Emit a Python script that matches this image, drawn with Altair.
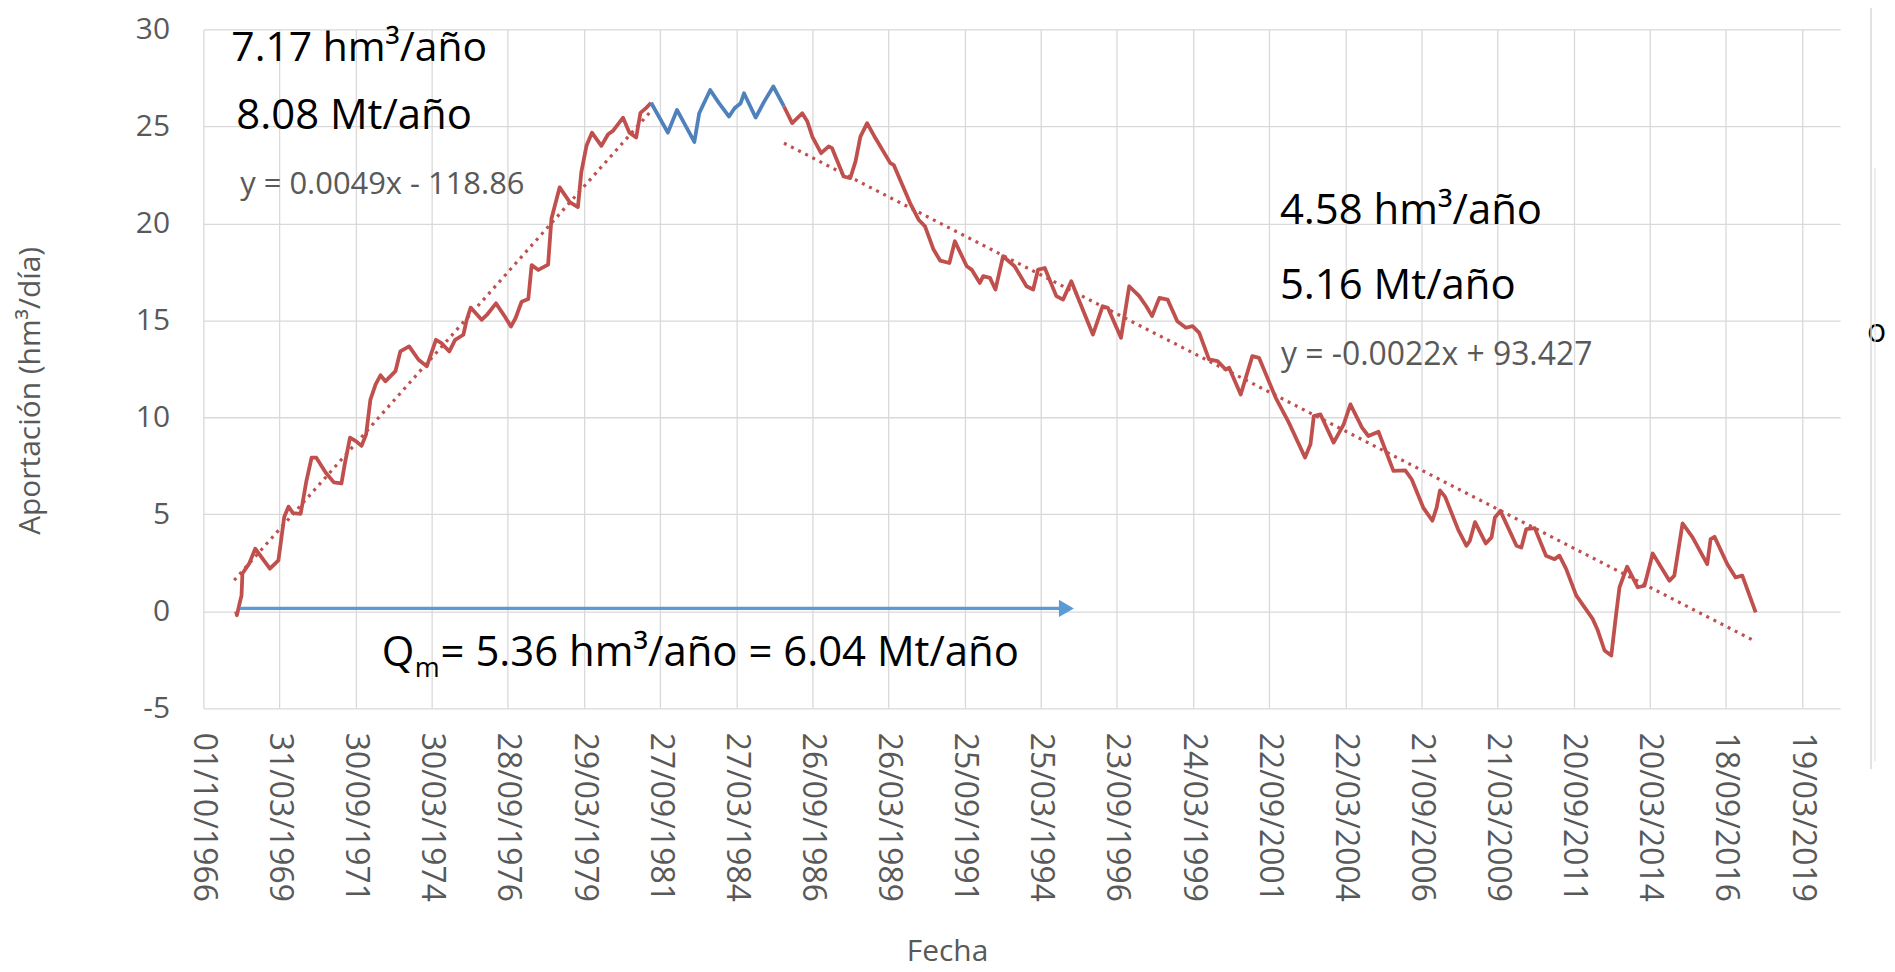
import altair as alt
import pandas as pd

# ---------------- datos ----------------
# Curva acumulada (tramo rojo 1)
anios_rojo1 = [1967.82, 1967.85, 1967.95, 1968.00, 1968.03, 1968.25, 1968.45, 1968.93, 1969.21, 1969.40,
               1969.54, 1969.69, 1969.94, 1970.13, 1970.30, 1970.45, 1970.76, 1971.03, 1971.28, 1971.39,
               1971.56, 1971.74, 1971.94, 1972.09, 1972.23, 1972.40, 1972.56, 1972.72, 1973.05, 1973.21,
               1973.50, 1973.81, 1974.08, 1974.25, 1974.38, 1974.56, 1974.82, 1975.01, 1975.28, 1975.39,
               1975.52, 1975.88, 1976.05, 1976.35, 1976.64, 1976.84, 1976.99, 1977.19, 1977.41, 1977.52,
               1977.74, 1978.06, 1978.17, 1978.44, 1978.77, 1979.04, 1979.15, 1979.32, 1979.50, 1979.81,
               1980.03, 1980.19, 1980.52, 1980.73, 1980.95, 1981.09, 1981.28, 1981.44]
valores_rojo1 = [0.0, -0.2, 0.5, 0.8, 1.95, 2.46, 3.23, 2.2, 2.63, 4.86,
                 5.4, 5.06, 5.03, 6.73, 7.93, 7.93, 7.16, 6.65, 6.6, 7.6,
                 8.96, 8.79, 8.53, 9.13, 10.92, 11.7, 12.17, 11.86, 12.38, 13.4,
                 13.66, 12.97, 12.63, 13.4, 14.0, 13.83, 13.4, 14.0, 14.26, 15.03,
                 15.66, 15.03, 15.28, 15.88, 15.2, 14.68, 15.11, 15.96, 16.1, 17.85,
                 17.6, 17.88, 20.24, 21.86, 21.1, 20.84, 22.63, 24.0, 24.68, 24.0,
                 24.6, 24.77, 25.45, 24.68, 24.43, 25.7, 25.96, 26.22]

# Tramo azul
anios_azul = [1981.44, 1981.99, 1982.29, 1982.86, 1983.02, 1983.38, 1983.67, 1984.00, 1984.18, 1984.38,
              1984.49, 1984.87, 1985.15, 1985.45, 1985.80]
valores_azul = [26.22, 24.68, 25.85, 24.2, 25.68, 26.88, 26.2, 25.51, 25.94, 26.2,
                26.71, 25.46, 26.28, 27.06, 26.03]

# Tramo rojo 2
anios_rojo2 = [1985.80, 1986.07, 1986.40, 1986.57, 1986.73, 1987.02, 1987.27, 1987.38, 1987.76, 1987.98,
               1988.15, 1988.31, 1988.53, 1988.80, 1989.29, 1989.40, 1989.94, 1990.22, 1990.43, 1990.71,
               1990.93, 1991.23, 1991.41, 1991.80, 1991.96, 1992.23, 1992.34, 1992.56, 1992.74, 1992.99,
               1993.37, 1993.76, 1993.98, 1994.14, 1994.36, 1994.74, 1994.96, 1995.23, 1995.94, 1996.26,
               1996.43, 1996.86, 1997.13, 1997.46, 1997.69, 1997.88, 1998.12, 1998.39, 1998.71, 1998.99,
               1999.21, 1999.43, 1999.75, 2000.03, 2000.30, 2000.41, 2000.79, 2001.17, 2001.39, 2001.94,
               2002.37, 2002.90, 2003.08, 2003.19, 2003.41, 2003.84, 2004.17, 2004.39, 2004.77, 2004.98,
               2005.31, 2005.80, 2006.19, 2006.40, 2006.78, 2007.08, 2007.22, 2007.33, 2007.50, 2007.93,
               2008.20, 2008.31, 2008.48, 2008.83, 2009.02, 2009.13, 2009.31, 2009.84, 2010.00, 2010.16,
               2010.44, 2010.81, 2011.09, 2011.25, 2011.47, 2011.80, 2012.07, 2012.34, 2012.51, 2012.73,
               2012.95, 2013.11, 2013.22, 2013.47, 2013.82, 2014.04, 2014.31, 2014.86, 2015.02, 2015.29,
               2015.62, 2016.10, 2016.21, 2016.34, 2016.76, 2017.03, 2017.25, 2017.69]
valores_rojo2 = [26.03, 25.17, 25.68, 25.25, 24.48, 23.62, 23.97, 23.88, 22.42, 22.34,
                 23.2, 24.48, 25.17, 24.4, 23.11, 23.02, 21.05, 20.19, 19.85, 18.65,
                 18.08, 17.96, 19.08, 17.79, 17.62, 16.93, 17.28, 17.19, 16.59, 18.31,
                 17.79, 16.76, 16.59, 17.62, 17.7, 16.25, 16.07, 17.02, 14.27, 15.73,
                 15.65, 14.1, 16.76, 16.25, 15.73, 15.22, 16.16, 16.07, 14.96, 14.62,
                 14.7, 14.36, 12.99, 12.9, 12.47, 12.56, 11.18, 13.16, 13.07, 11.01,
                 9.73, 7.93, 8.61, 10.07, 10.15, 8.7, 9.64, 10.67, 9.47, 9.04,
                 9.26, 7.24, 7.27, 6.81, 5.35, 4.67, 5.35, 6.24, 5.9, 4.2,
                 3.38, 3.64, 4.6, 3.5, 3.81, 4.84, 5.18, 3.38, 3.29, 4.24,
                 4.29, 2.87, 2.69, 2.87, 2.19, 0.82, 0.22, -0.39, -0.99, -2.02,
                 -2.28, -0.14, 1.24, 2.3, 1.24, 1.32, 2.98, 1.58, 1.84, 4.53,
                 3.81, 2.43, 3.72, 3.84, 2.43, 1.75, 1.84, -0.05]

# Líneas de tendencia (extremos leídos)
anios_tend1 = [1967.76, 1981.44]
valores_tend1 = [1.6, 25.8]
anios_tend2 = [1985.80, 2017.63]
valores_tend2 = [24.14, -1.51]

# Línea de caudal medio (flecha)
anios_media = [1967.95, 1994.84]
valores_media = [0.15, 0.15]
anio_punta = [1995.07]

# Ejes
etiquetas_x = ["01/10/1966", "31/03/1969", "30/09/1971", "30/03/1974", "28/09/1976", "29/03/1979",
               "27/09/1981", "27/03/1984", "26/09/1986", "26/03/1989", "25/09/1991", "25/03/1994",
               "23/09/1996", "24/03/1999", "22/09/2001", "22/03/2004", "21/09/2006", "21/03/2009",
               "20/09/2011", "20/03/2014", "18/09/2016", "19/03/2019"]
ticks_y = [-5, 0, 5, 10, 15, 20, 25, 30]
dominio_x = ["01/10/1966", "18/06/2020"]

textos = {
    "t1": "7.17 hm³/año",
    "t2": "8.08 Mt/año",
    "e1": "y = 0.0049x - 118.86",
    "t3": "4.58 hm³/año",
    "t4": "5.16 Mt/año",
    "e2": "y = -0.0022x + 93.427",
    "q": "Q",
    "m": "m",
    "qm": "= 5.36 hm³/año = 6.04 Mt/año",
}

# ---------------- construcción ----------------
def a_fecha(a):
    y = int(a)
    ini = pd.Timestamp(year=y, month=1, day=1)
    fin = pd.Timestamp(year=y + 1, month=1, day=1)
    return (ini + (fin - ini) * (a - y)).strftime("%Y-%m-%dT%H:%M:%S")


def a_dt(s):
    d, m, y = s.split("/")
    return alt.DateTime(year=int(y), month=int(m), date=int(d))


def tabla(anios, valores, seg):
    return pd.DataFrame({"fecha": [a_fecha(a) for a in anios], "valor": valores, "seg": seg})


df_rojo = pd.concat([tabla(anios_rojo1, valores_rojo1, "a"), tabla(anios_rojo2, valores_rojo2, "b")])
df_azul = tabla(anios_azul, valores_azul, "c")
df_tend = pd.concat([tabla(anios_tend1, valores_tend1, "t1"), tabla(anios_tend2, valores_tend2, "t2")])
df_media = tabla(anios_media, valores_media, "m")
df_punta = tabla(anio_punta, [valores_media[0]], "p")

GRIS = "#595959"
FUENTE = "Open Sans"

x_enc = alt.X(
    "fecha:T",
    scale=alt.Scale(domain=[a_dt(dominio_x[0]), a_dt(dominio_x[1])], nice=False),
    axis=alt.Axis(
        values=[a_dt(s) for s in etiquetas_x], format="%d/%m/%Y", title="Fecha",
        grid=True, gridColor="#D9D9D9", gridWidth=1.3, domain=False, ticks=False,
        labelFont=FUENTE, labelFontSize=32, labelColor=GRIS, labelPadding=24,
        labelAngle=90, labelAlign="left", labelBaseline="middle", labelOverlap=False,
        labelFlush=False, labelBound=False,
        titleFont=FUENTE, titleFontSize=30, titleColor=GRIS, titleFontWeight="normal",
        titleX=746, titleY=244, titleAlign="center", titleBaseline="middle",
    ),
)
y_enc = alt.Y(
    "valor:Q",
    scale=alt.Scale(domain=[-5, 30], nice=False, zero=False),
    axis=alt.Axis(
        values=ticks_y, title="Aportación (hm³/día)", labelExpr="'' + datum.value",
        grid=True, gridColor="#D9D9D9", gridWidth=1.3, domain=False, ticks=False,
        labelFont=FUENTE, labelFontSize=30, labelColor=GRIS, labelPadding=34,
        titleFont=FUENTE, titleFontSize=30, titleColor=GRIS, titleFontWeight="normal",
        titleAngle=-90, titleX=-173, titleY=362, titleAlign="center", titleBaseline="middle",
    ),
)

rojo = alt.Chart(df_rojo).mark_line(color="#C0504D", strokeWidth=3.8, strokeJoin="round").encode(
    x=x_enc, y=y_enc, detail="seg:N")
azul = alt.Chart(df_azul).mark_line(color="#4F81BD", strokeWidth=3.8, strokeJoin="round").encode(
    x=x_enc, y=y_enc)
tend = alt.Chart(df_tend).mark_line(color="#C0504D", strokeWidth=3.2, strokeDash=[3, 5]).encode(
    x=x_enc, y=y_enc, detail="seg:N")
media = alt.Chart(df_media).mark_line(color="#5B9BD5", strokeWidth=3.2).encode(x=x_enc, y=y_enc)
punta = alt.Chart(df_punta).mark_point(shape="triangle-right", filled=True, opacity=1,
                                       color="#5B9BD5", size=300).encode(x=x_enc, y=y_enc)


def texto(clave, px, py, size, color="black"):
    return alt.Chart(pd.DataFrame({"t": [textos[clave]]})).mark_text(
        align="left", baseline="alphabetic", font=FUENTE, fontSize=size, color=color
    ).encode(text="t:N", x=alt.value(px), y=alt.value(py))


capas_texto = [
    texto("t1", 28, 32, 41),
    texto("t2", 33, 100, 42),
    texto("e1", 37, 165, 31, GRIS),
    texto("t3", 1080, 195, 42),
    texto("t4", 1080, 270, 42),
    texto("e2", 1081, 337, 32, GRIS),
    texto("q", 179, 639, 42),
    texto("m", 212, 650, 27),
    texto("qm", 238, 639, 42),
]

# restos del borde derecho del montaje
borde1 = alt.Chart(pd.DataFrame({"k": [0]})).mark_rule(color="#D9D9D9", strokeWidth=1.5).encode(
    x=alt.value(1673), y=alt.value(-28), y2=alt.value(742))
borde2 = alt.Chart(pd.DataFrame({"k": [0]})).mark_rule(color="#E3E3E3", strokeWidth=1.2).encode(
    x=alt.value(1677), y=alt.value(139), y2=alt.value(734))
resto_o = alt.Chart(pd.DataFrame({"t": ["o"]})).mark_text(
    align="left", baseline="alphabetic", font=FUENTE, fontSize=32, color="black"
).encode(text="t:N", x=alt.value(1669), y=alt.value(314))

chart = alt.layer(
    tend, rojo, azul, media, punta, *capas_texto, resto_o, borde1, borde2
).properties(
    width=1642, height=681,
    autosize=alt.AutoSizeParams(type="none"),
    padding={"left": 196, "top": 20, "right": 47, "bottom": 262},
    background="white",
).configure_view(stroke=None)

chart.save("out.html", embed_options={"renderer": "svg", "actions": False})
